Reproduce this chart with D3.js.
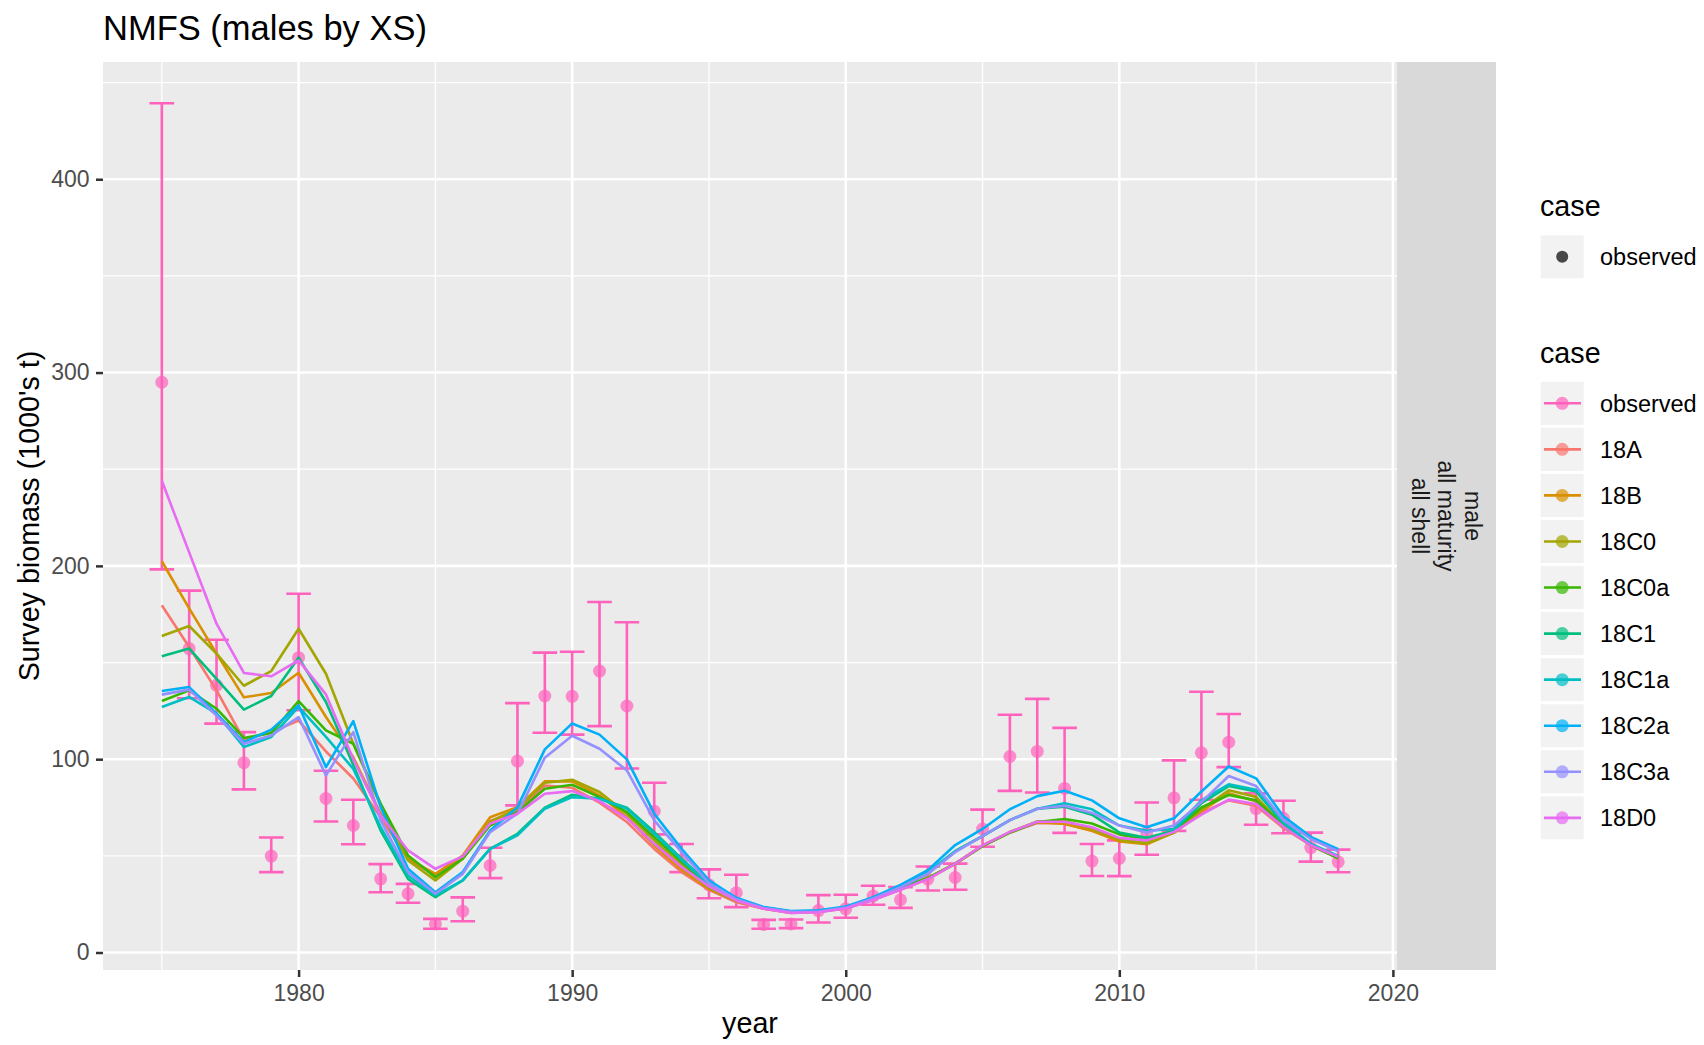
<!DOCTYPE html>
<html>
<head>
<meta charset="utf-8">
<script src="https://cdn.jsdelivr.net/npm/d3@7"></script>
<style>
  body { margin: 0; background: #fff; }
  svg text { font-family: "Liberation Sans", Arial, Helvetica, sans-serif; }
</style>
</head>
<body>
<div id="chart"></div>
<script>
// survey years
const years = [1975, 1976, 1977, 1978, 1979, 1980, 1981, 1982, 1983, 1984,
  1985, 1986, 1987, 1988, 1989, 1990, 1991, 1992, 1993, 1994,
  1995, 1996, 1997, 1998, 1999, 2000, 2001, 2002, 2003, 2004,
  2005, 2006, 2007, 2008, 2009, 2010, 2011, 2012, 2013, 2014,
  2015, 2016, 2017, 2018];

// observed survey biomass with CI
const obsValue = [295, 157.2, 138.2, 98.2, 49.9, 152.5, 79.7, 65.7, 38.1, 30.4,
  14.8, 21.4, 45, 99, 132.7, 132.5, 145.6, 127.5, 73.1, 48,
  35, 30.9, 14.5, 14.8, 21.7, 22.6, 29.2, 27.3, 38, 38.8,
  63.9, 101.4, 104, 84.9, 47.3, 48.7, 62, 80, 103.3, 108.8,
  74.4, 69.4, 54.3, 46.9];
const obsLower = [198.2, 131.5, 118.4, 84.4, 41.6, 125.3, 67.8, 56, 31.2, 25.7,
  12.3, 16.2, 38.5, 76.1, 113.7, 112.7, 117.1, 95.2, 61.1, 41.6,
  28.1, 23.5, 12.3, 12.6, 15.5, 18, 24.7, 23.1, 32.1, 32.5,
  54.7, 83.6, 82.8, 61.9, 39.6, 39.5, 50.6, 62.9, 79, 95.9,
  66.1, 61.7, 47, 41.5];
const obsUpper = [439.3, 187.2, 161.8, 114, 59.5, 185.6, 94, 79, 45.7, 35.5,
  17.4, 28.5, 54.2, 129, 155.1, 155.6, 181.3, 170.8, 87.8, 56.1,
  43, 40.2, 16.9, 17.1, 29.7, 29.9, 34.5, 33.8, 44.5, 46,
  73.9, 123, 131.2, 116.2, 56.1, 58, 77.6, 99.4, 134.9, 123.4,
  82.3, 78.5, 62, 53.2];

// model fits
const fit18A = [179.6, 158, 135.6, 110, 114, 120, 104, 90, 70, 48,
  40, 49, 68, 73.5, 86.4, 85.2, 77.5, 67.5, 53.6, 41.6,
  32.4, 26, 22.6, 20.5, 21, 22.8, 27.2, 32.5, 38, 45.8,
  55, 62, 67, 66.7, 63, 58, 56.9, 62, 72.2, 78.7,
  75.9, 64.3, 55.5, 49];
const fit18B = [202.4, 178, 154.6, 132, 134.2, 144.7, 121.8, 101, 71.8, 48.5,
  40.7, 50.2, 70, 75.2, 88.5, 88.5, 81.3, 70, 55.4, 42.8,
  32.9, 26.5, 22.8, 20.6, 21.2, 23, 27.5, 33, 38.5, 46,
  55.2, 62.3, 67.5, 66.5, 63, 57.4, 56, 62, 73.1, 82.4,
  78.3, 64.8, 55.5, 49];
const fit18C0 = [163.7, 168.9, 154.6, 138, 145.6, 167.5, 144.2, 108, 76, 47.6,
  37.3, 48.5, 67.5, 74.4, 87.8, 89.4, 83, 71.8, 58, 45,
  33.5, 26.8, 23, 20.8, 21.2, 23, 27.5, 33, 38.5, 46,
  55.4, 62.3, 67.8, 68, 63.9, 58.4, 56.5, 62.1, 74.1, 83.9,
  80.5, 65.5, 55.8, 49.5];
const fit18C0a = [130.1, 135.6, 126.1, 111, 113.5, 130, 114.9, 108, 77, 50.2,
  39, 48.5, 65.7, 72.6, 84.7, 86.8, 80.4, 72.6, 59.7, 46.8,
  34.2, 27, 23, 20.8, 21.2, 23, 27.5, 33, 38.5, 46,
  55, 62, 67.5, 69.1, 66.7, 61.1, 58.4, 62.8, 75, 81.5,
  78.7, 65.8, 55.5, 48.7];
const fit18C1 = [153.2, 157.2, 141.6, 125.6, 132.7, 152.5, 129.6, 97, 63.1, 38.1,
  28.6, 37.3, 53.6, 61.4, 74.9, 81.6, 79.5, 74.9, 62.3, 48.5,
  35.5, 27.3, 23.2, 21.2, 21.4, 23.4, 27.8, 33.5, 40.8, 52.4,
  60.2, 68.5, 74.4, 75.4, 71.3, 62.1, 59.3, 63, 77.2, 86.1,
  83.3, 66.7, 56, 49.5];
const fit18C1a = [127, 132.2, 123.5, 106.3, 111.5, 127, 111.5, 95, 64.9, 39.8,
  29.5, 37.3, 53.6, 60.6, 74.4, 80.4, 79.5, 74.4, 61.4, 48,
  35, 27.3, 23.2, 21.2, 21.4, 23.4, 27.8, 33.8, 41.7, 52.4,
  60.2, 68.5, 74.4, 77.2, 74.1, 65.7, 63, 63.9, 78.7, 87,
  84.2, 67.5, 56.2, 50];
const fit18C2a = [135.3, 137.3, 123.5, 108.8, 115.3, 127.8, 95.9, 119.7, 75.2, 43.3,
  31.2, 41.6, 63.1, 75.2, 105.1, 118.5, 112.7, 99.9, 71.8, 53.6,
  37.3, 28.3, 23.5, 21.5, 21.8, 23.8, 28.6, 35, 42.6, 55.6,
  63.9, 74.1, 80.9, 83.7, 78.7, 69.4, 64.8, 69.4, 83.3, 96.2,
  90.1, 70.4, 59.8, 53.4];
const fit18C3a = [133.4, 136, 122.6, 108, 112.3, 121.8, 91.6, 114, 68.3, 41.6,
  30.4, 40.7, 62.3, 71.8, 100.8, 112.1, 105.4, 94.2, 68.3, 51.9,
  35.9, 27.5, 23, 21, 21.2, 23.2, 28, 33.8, 40.8, 51.9,
  60.2, 68.5, 74.4, 75.9, 72.2, 65.7, 62.1, 65.7, 77.8, 91.3,
  86.1, 68.5, 58.7, 52.4];
const fit18D0 = [244, 207, 170.1, 144.6, 142.9, 151.1, 133.5, 100, 70.9, 52.8,
  43.3, 49.7, 66.6, 71.8, 82.1, 83.5, 78.3, 69.5, 56.2, 44.2,
  34.2, 26.8, 22.6, 20.4, 20.8, 22.8, 27.2, 32.5, 38, 46,
  55.4, 62.4, 67.6, 67.6, 64.8, 59.3, 58, 62.4, 71.3, 79.1,
  76.8, 65, 55.5, 49.5];

const caseNames = ["observed", "18A", "18B", "18C0", "18C0a", "18C1", "18C1a", "18C2a", "18C3a", "18D0"];
const caseColors = ["#FF62BC", "#F8766D", "#D89000", "#A3A500", "#39B600", "#00BF7D", "#00BFC4", "#00B0F6", "#9590FF", "#E76BF3"];
const fits = [fit18A, fit18B, fit18C0, fit18C0a, fit18C1, fit18C1a, fit18C2a, fit18C3a, fit18D0];

const stripLines = ["male", "all maturity", "all shell"];

// layout
const W = 1704, H = 1045;
const panel = { left: 103, right: 1397, top: 62, bottom: 970 };

const svg = d3.select("#chart").append("svg")
  .attr("width", W)
  .attr("height", H);

// scales with ggplot-style 5% expansion
const xExt = d3.extent(years);
const xPad = (xExt[1] - xExt[0]) * 0.05;
const x = d3.scaleLinear()
  .domain([xExt[0] - xPad, xExt[1] + xPad])
  .range([panel.left, panel.right]);

const yMin = d3.min([d3.min(obsLower), ...fits.map(f => d3.min(f))]);
const yMax = d3.max([d3.max(obsUpper), ...fits.map(f => d3.max(f))]);
const yPad = (yMax - yMin) * 0.05;
const y = d3.scaleLinear()
  .domain([yMin - yPad, yMax + yPad])
  .range([panel.bottom, panel.top]);

// panel background
svg.append("rect")
  .attr("x", panel.left).attr("y", panel.top)
  .attr("width", panel.right - panel.left)
  .attr("height", panel.bottom - panel.top)
  .attr("fill", "#EBEBEB");

// grid
const xMajor = x.ticks(5);
const yMajor = y.ticks(5);
const step = (a) => a[1] - a[0];
const xMinor = xMajor.map(d => d - step(xMajor) / 2).concat([xMajor[xMajor.length - 1] + step(xMajor) / 2])
  .filter(d => d > x.domain()[0] && d < x.domain()[1]);
const yMinor = yMajor.map(d => d - step(yMajor) / 2).concat([yMajor[yMajor.length - 1] + step(yMajor) / 2])
  .filter(d => d > y.domain()[0] && d < y.domain()[1]);

const grid = svg.append("g").attr("stroke", "#fff");
grid.selectAll(".ymin").data(yMinor).enter().append("line")
  .attr("x1", panel.left).attr("x2", panel.right)
  .attr("y1", d => y(d)).attr("y2", d => y(d))
  .attr("stroke-width", 1.3);
grid.selectAll(".xmin").data(xMinor).enter().append("line")
  .attr("y1", panel.top).attr("y2", panel.bottom)
  .attr("x1", d => x(d)).attr("x2", d => x(d))
  .attr("stroke-width", 1.3);
grid.selectAll(".ymaj").data(yMajor).enter().append("line")
  .attr("x1", panel.left).attr("x2", panel.right)
  .attr("y1", d => y(d)).attr("y2", d => y(d))
  .attr("stroke-width", 2.6);
grid.selectAll(".xmaj").data(xMajor).enter().append("line")
  .attr("y1", panel.top).attr("y2", panel.bottom)
  .attr("x1", d => x(d)).attr("x2", d => x(d))
  .attr("stroke-width", 2.6);

// error bars
const obs = years.map((yr, i) => ({ year: yr, v: obsValue[i], lo: obsLower[i], hi: obsUpper[i] }));
const capHalf = 0.45;
const eb = svg.append("g")
  .attr("stroke", caseColors[0])
  .attr("stroke-width", 2.6)
  .attr("fill", "none");
eb.selectAll("path").data(obs).enter().append("path")
  .attr("d", d => `M${x(d.year - capHalf)},${y(d.hi)}H${x(d.year + capHalf)}` +
    `M${x(d.year)},${y(d.hi)}V${y(d.lo)}` +
    `M${x(d.year - capHalf)},${y(d.lo)}H${x(d.year + capHalf)}`);

// observed points
svg.append("g").selectAll("circle").data(obs).enter().append("circle")
  .attr("cx", d => x(d.year))
  .attr("cy", d => y(d.v))
  .attr("r", 6.5)
  .attr("fill", caseColors[0])
  .attr("fill-opacity", 0.7);

// model lines
const line = d3.line()
  .x((d, i) => x(years[i]))
  .y(d => y(d));
svg.append("g").selectAll("path").data(fits).enter().append("path")
  .attr("d", d => line(d))
  .attr("fill", "none")
  .attr("stroke", (d, i) => caseColors[i + 1])
  .attr("stroke-width", 2.6)
  .attr("stroke-linejoin", "round");

// strip on the right
svg.append("rect")
  .attr("x", panel.right).attr("y", panel.top)
  .attr("width", 99).attr("height", panel.bottom - panel.top)
  .attr("fill", "#D9D9D9");
const strip = svg.append("g")
  .attr("transform", `translate(${panel.right + 49.5},${(panel.top + panel.bottom) / 2}) rotate(90)`);
strip.selectAll("text").data(stripLines).enter().append("text")
  .attr("x", 0)
  .attr("y", (d, i) => (i - 1) * 26.5)
  .attr("dy", "0.35em")
  .attr("text-anchor", "middle")
  .attr("font-size", "23px")
  .attr("fill", "#1A1A1A")
  .text(d => d);

// axes
const xAxis = svg.append("g")
  .attr("transform", `translate(0,${panel.bottom})`)
  .call(d3.axisBottom(x).tickValues(xMajor).tickFormat(d3.format("d")).tickSize(7).tickPadding(8));
const yAxis = svg.append("g")
  .attr("transform", `translate(${panel.left},0)`)
  .call(d3.axisLeft(y).tickValues(yMajor).tickSize(7).tickPadding(6.5));
[xAxis, yAxis].forEach(a => {
  a.select(".domain").remove();
  a.selectAll(".tick line").attr("stroke", "#333333").attr("stroke-width", 2.5);
  a.selectAll(".tick text")
    .attr("fill", "#4D4D4D")
    .style("font-size", "23px")
    .style("font-family", '"Liberation Sans", Arial, sans-serif');
});

// titles
svg.append("text")
  .attr("x", panel.left).attr("y", 40)
  .attr("font-size", "34.5px")
  .attr("fill", "#000")
  .text("NMFS (males by XS)");
svg.append("text")
  .attr("x", (panel.left + panel.right) / 2).attr("y", 1033)
  .attr("text-anchor", "middle")
  .attr("font-size", "28.7px")
  .attr("fill", "#000")
  .text("year");
svg.append("text")
  .attr("transform", `translate(39,${(panel.top + panel.bottom) / 2}) rotate(-90)`)
  .attr("text-anchor", "middle")
  .attr("font-size", "28.7px")
  .attr("fill", "#000")
  .text("Survey biomass (1000's t)");

// legends
const lg = { x: 1540, key: 43, pitch: 46.06, textX: 1600 };

// legend 1: points
svg.append("text")
  .attr("x", lg.x).attr("y", 215.6)
  .attr("font-size", "28.7px").attr("fill", "#000")
  .text("case");
svg.append("rect")
  .attr("x", lg.x + 0.7).attr("y", 235.3)
  .attr("width", lg.key).attr("height", lg.key)
  .attr("fill", "#F2F2F2");
svg.append("circle")
  .attr("cx", lg.x + 0.7 + lg.key / 2).attr("cy", 256.8)
  .attr("r", 6).attr("fill", "#000").attr("fill-opacity", 0.7);
svg.append("text")
  .attr("x", lg.textX).attr("y", 256.8).attr("dy", "0.35em")
  .attr("font-size", "23.5px").attr("fill", "#000")
  .text(caseNames[0]);

// legend 2: lines
svg.append("text")
  .attr("x", lg.x).attr("y", 362.5)
  .attr("font-size", "28.7px").attr("fill", "#000")
  .text("case");
const items = svg.append("g").selectAll("g").data(caseNames).enter().append("g")
  .attr("transform", (d, i) => `translate(0,${403.3 + i * lg.pitch})`);
items.append("rect")
  .attr("x", lg.x + 0.7).attr("y", -lg.key / 2)
  .attr("width", lg.key).attr("height", lg.key)
  .attr("fill", "#F2F2F2");
items.append("line")
  .attr("x1", lg.x + 4).attr("x2", lg.x + 41)
  .attr("stroke", (d, i) => caseColors[i])
  .attr("stroke-width", 2.6);
items.append("circle")
  .attr("cx", lg.x + 0.7 + lg.key / 2).attr("cy", 0)
  .attr("r", 6.5)
  .attr("fill", (d, i) => caseColors[i])
  .attr("fill-opacity", 0.7);
items.append("text")
  .attr("x", lg.textX).attr("dy", "0.35em")
  .attr("font-size", "23.5px").attr("fill", "#000")
  .text(d => d);
</script>
</body>
</html>
